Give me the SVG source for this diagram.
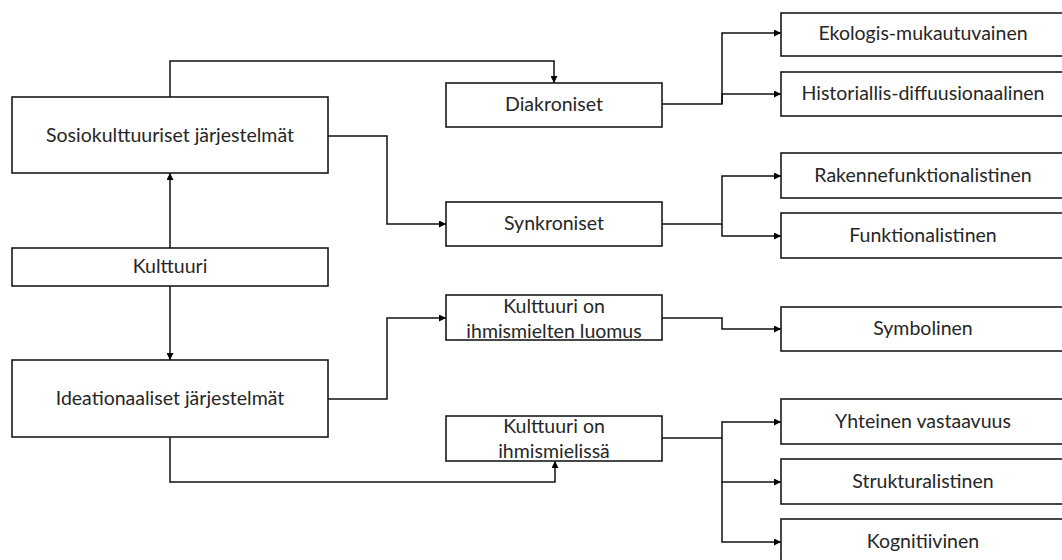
<svg xmlns="http://www.w3.org/2000/svg" width="1062" height="560" viewBox="0 0 1062 560">
<defs>
<marker id="arr" viewBox="0 0 8 8" refX="8" refY="4" markerWidth="7" markerHeight="7" markerUnits="userSpaceOnUse" orient="auto">
<path d="M0,0 L8,4 L0,8 Z" fill="#000"/>
</marker>
<style>
.box{fill:#fff;stroke:#1a1a1a;stroke-width:1.6}
.t{font-family:Lato,"Liberation Sans",sans-serif;font-size:19.5px;fill:#262626;text-anchor:middle}
.c{fill:none;stroke:#111;stroke-width:1.5}
</style>
</defs>
<rect width="1062" height="560" fill="#fff"/>
<g id="connectors">
<path class="c" d="M170,97 V61 H554 V83" marker-end="url(#arr)"/>
<path class="c" d="M328,136 H387 V224 H446" marker-end="url(#arr)"/>
<path class="c" d="M170,248 V173" marker-end="url(#arr)"/>
<path class="c" d="M170,286 V360" marker-end="url(#arr)"/>
<path class="c" d="M328,399 H387 V318 H446" marker-end="url(#arr)"/>
<path class="c" d="M170,437 V482 H555 V461" marker-end="url(#arr)"/>
<path class="c" d="M662,104 H722 V33 H781" marker-end="url(#arr)"/>
<path class="c" d="M722,104 V94 H781" marker-end="url(#arr)"/>
<path class="c" d="M662,224 H722 V176 H781" marker-end="url(#arr)"/>
<path class="c" d="M722,224 V236 H781" marker-end="url(#arr)"/>
<path class="c" d="M662,318 H722 V329 H781" marker-end="url(#arr)"/>
<path class="c" d="M662,438 H722 V422 H781" marker-end="url(#arr)"/>
<path class="c" d="M722,438 V482 H781" marker-end="url(#arr)"/>
<path class="c" d="M722,482 V542 H781" marker-end="url(#arr)"/>
</g>
<g id="sosio"><rect class="box" x="12" y="97" width="316" height="76"/><text class="t" x="170" y="142">Sosiokulttuuriset järjestelmät</text></g>
<g id="kulttuuri"><rect class="box" x="12" y="248" width="316" height="38"/><text class="t" x="170" y="273">Kulttuuri</text></g>
<g id="ideationaaliset"><rect class="box" x="12" y="360" width="316" height="77"/><text class="t" x="170" y="405">Ideationaaliset järjestelmät</text></g>
<g id="diakroniset"><rect class="box" x="446" y="83" width="216" height="44"/><text class="t" x="554" y="111">Diakroniset</text></g>
<g id="synkroniset"><rect class="box" x="446" y="202" width="216" height="44"/><text class="t" x="554" y="230">Synkroniset</text></g>
<g id="luomus"><rect class="box" x="446" y="295" width="216" height="45"/><text class="t" x="554" y="313">Kulttuuri on</text><text class="t" x="554" y="338">ihmismielten luomus</text></g>
<g id="mielissa"><rect class="box" x="446" y="416" width="216" height="45"/><text class="t" x="554" y="433">Kulttuuri on</text><text class="t" x="554" y="458">ihmismielissä</text></g>
<g id="ekologis"><rect class="box" x="781" y="13" width="286" height="43"/><text class="t" x="923" y="40">Ekologis-mukautuvainen</text></g>
<g id="historiallis"><rect class="box" x="781" y="72" width="286" height="44"/><text class="t" x="923" y="100">Historiallis-diffuusionaalinen</text></g>
<g id="rakenne"><rect class="box" x="781" y="153" width="286" height="45"/><text class="t" x="923" y="182">Rakennefunktionalistinen</text></g>
<g id="funktionalistinen"><rect class="box" x="781" y="213" width="286" height="45"/><text class="t" x="923" y="242">Funktionalistinen</text></g>
<g id="symbolinen"><rect class="box" x="781" y="307" width="286" height="44"/><text class="t" x="923" y="335">Symbolinen</text></g>
<g id="yhteinen"><rect class="box" x="781" y="399" width="286" height="45"/><text class="t" x="923" y="428">Yhteinen vastaavuus</text></g>
<g id="strukturalistinen"><rect class="box" x="781" y="459" width="286" height="45"/><text class="t" x="923" y="488">Strukturalistinen</text></g>
<g id="kognitiivinen"><rect class="box" x="781" y="519" width="286" height="50"/><text class="t" x="923" y="548">Kognitiivinen</text></g>
</svg>
